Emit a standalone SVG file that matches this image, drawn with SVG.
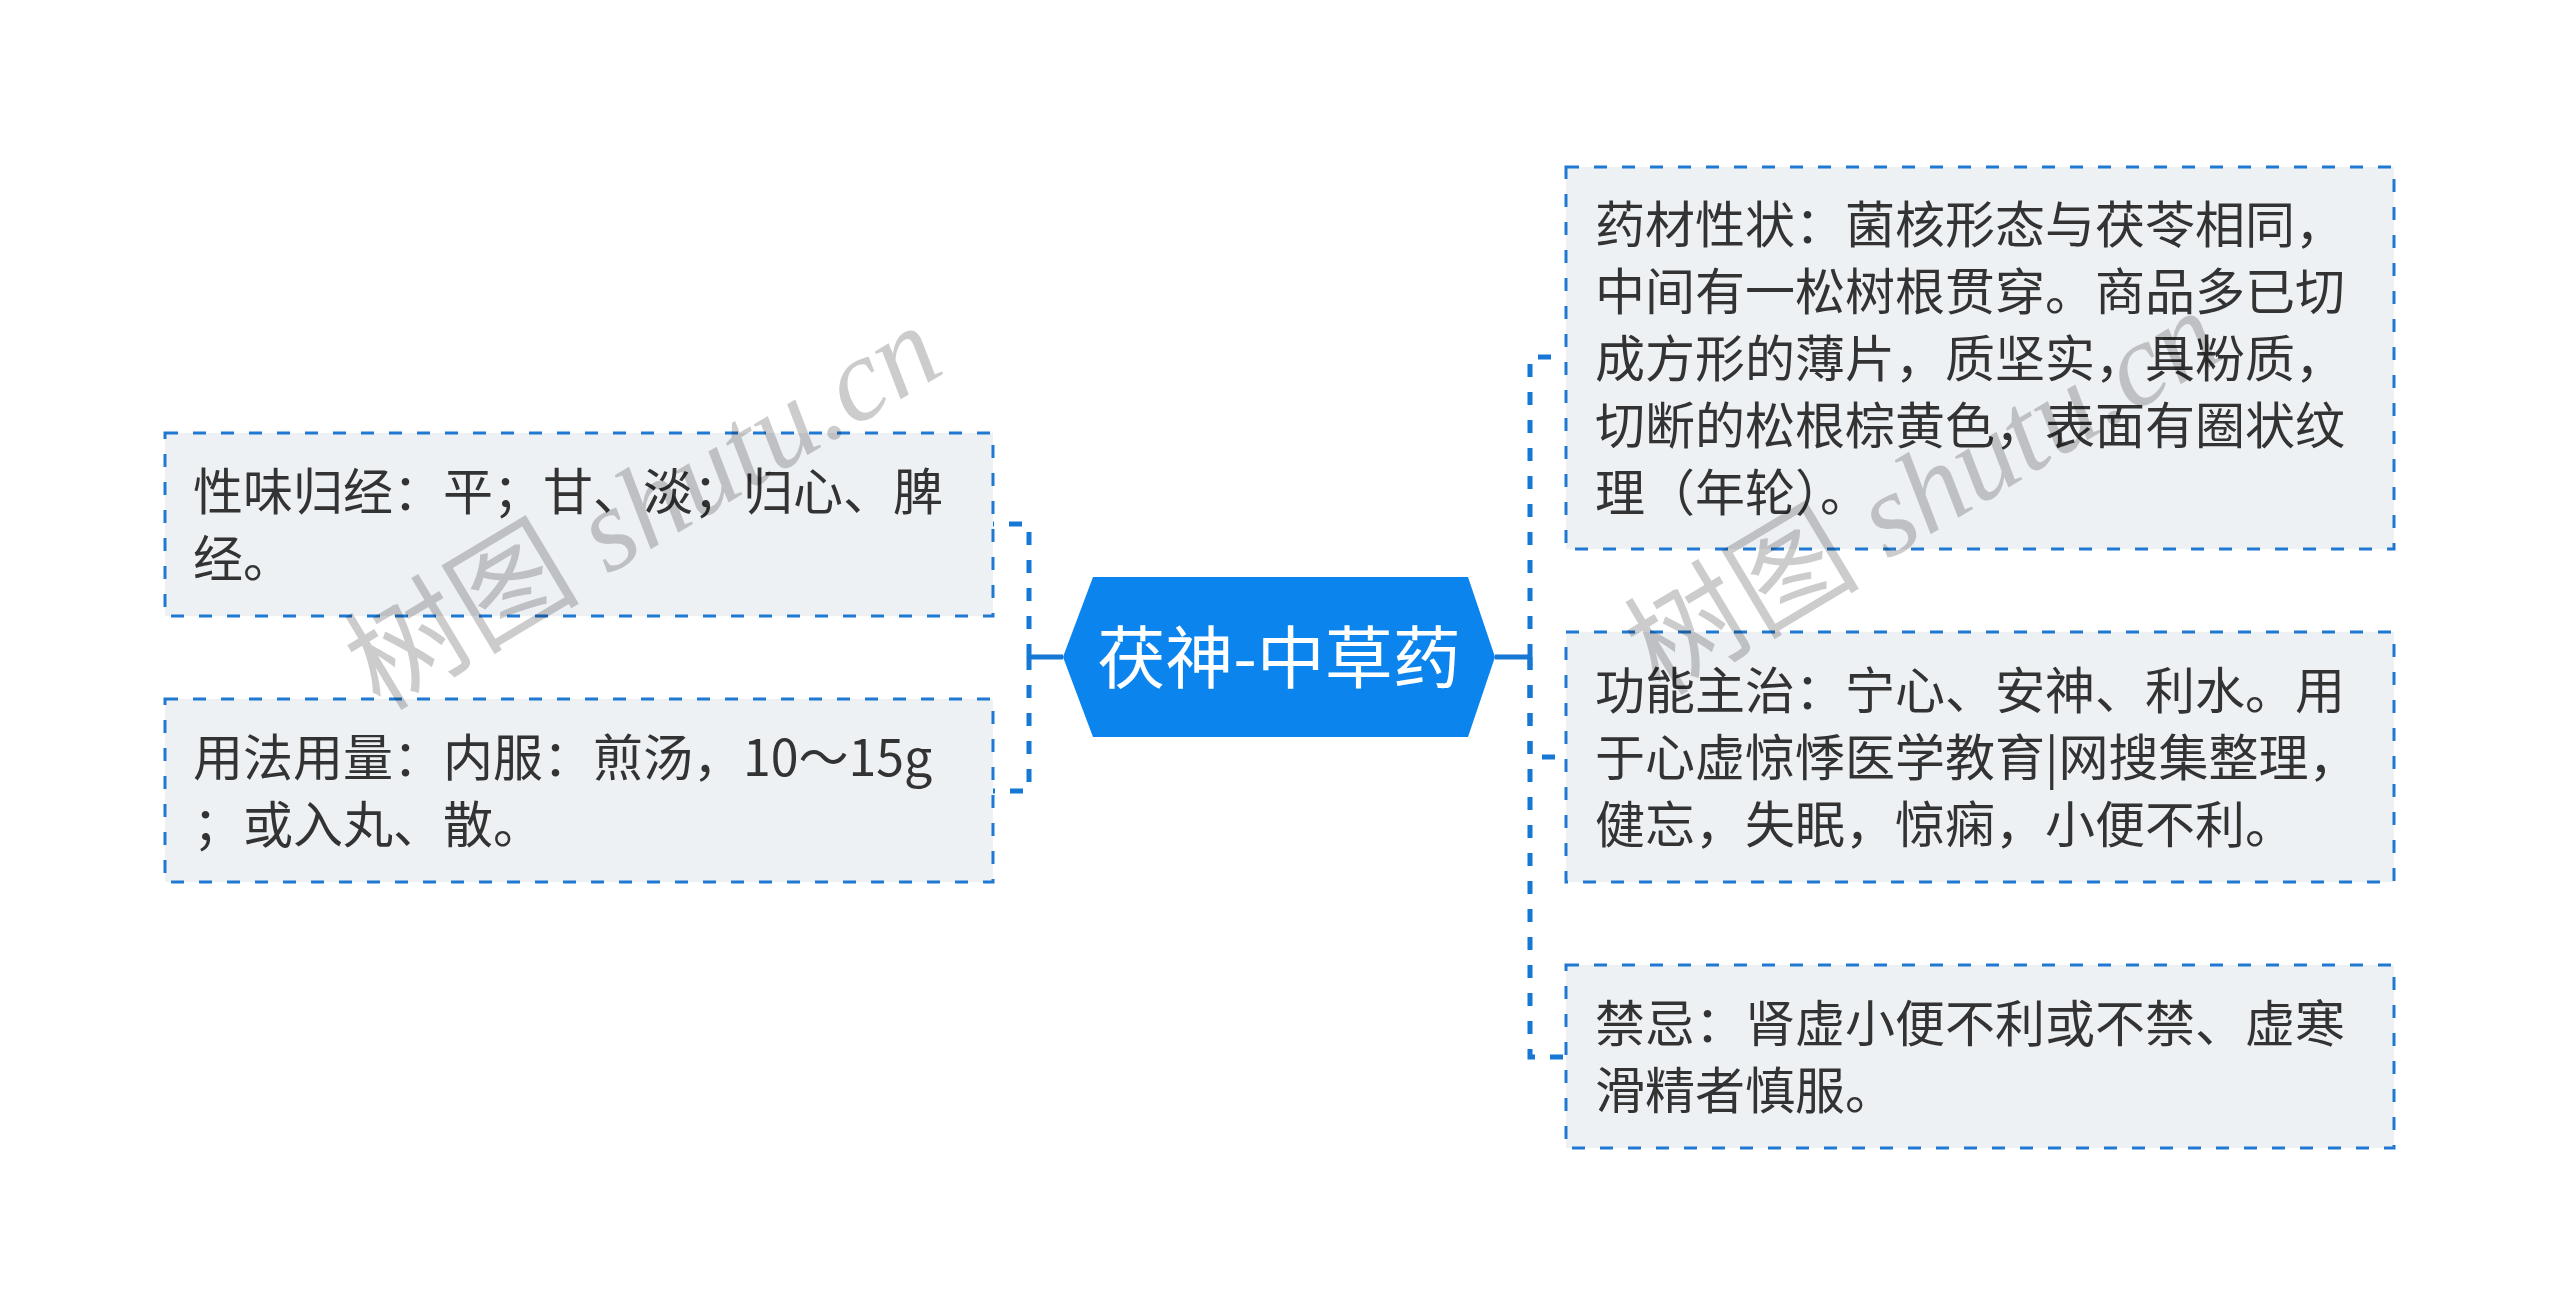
<svg xmlns="http://www.w3.org/2000/svg" width="2560" height="1315" viewBox="0 0 2560 1315">
<defs>
<style>
.box{fill:#eef1f4;stroke:#1f78d1;stroke-width:3;stroke-dasharray:13 15}
.t{font-family:"Microsoft YaHei","Noto Sans CJK SC","Noto Sans",sans-serif;font-size:50px;fill:#333333}
.main{font-family:"Microsoft YaHei","Noto Sans CJK SC","Noto Sans",sans-serif;font-size:68px;fill:#ffffff}
.conn{fill:none;stroke:#1677d4;stroke-width:5;stroke-dasharray:13 15}
.solid{fill:none;stroke:#1677d4;stroke-width:5}
.wm{font-family:"Liberation Serif","Noto Sans CJK SC",serif;font-size:118px;fill:#000000;fill-opacity:0.2}
.it{font-style:italic}
</style>
</defs>
<rect width="2560" height="1315" fill="#ffffff"/>
<g id="connectors">
<path class="solid" d="M1063,657 H1029"/>
<path class="conn" d="M1029,657 V524 H993"/>
<path class="conn" d="M1029,657 V791 H993"/>
<path class="solid" d="M1495,657 H1530"/>
<path class="conn" d="M1530,657 V357 H1566"/>
<path class="conn" d="M1530,657 V757 H1566"/>
<path class="conn" d="M1530,657 V1057 H1566"/>
</g>
<g id="root">
<polygon points="1093,577 1468,577 1495,657 1468,737 1093,737 1063,657" fill="#0b84ee"/>
<text class="main" x="1279" y="683" text-anchor="middle">茯神-中草药</text>
</g>
<g id="node-xingwei">
<rect class="box" x="165" y="433" width="828" height="183"/>
<text class="t" x="193" y="510">性味归经：平；甘、淡；归心、脾</text>
<text class="t" x="193" y="577">经。</text>
</g>
<g id="node-yongfa">
<rect class="box" x="165" y="699" width="828" height="183"/>
<text class="t" x="193" y="776">用法用量：内服：煎汤，10～15g</text>
<text class="t" x="193" y="843">；或入丸、散。</text>
</g>
<g id="node-yaocai">
<rect class="box" x="1566" y="167" width="828" height="382"/>
<text class="t" x="1595" y="243">药材性状：菌核形态与茯苓相同，</text>
<text class="t" x="1595" y="310">中间有一松树根贯穿。商品多已切</text>
<text class="t" x="1595" y="377">成方形的薄片，质坚实，具粉质，</text>
<text class="t" x="1595" y="444">切断的松根棕黄色，表面有圈状纹</text>
<text class="t" x="1595" y="511">理（年轮）。</text>
</g>
<g id="node-gongneng">
<rect class="box" x="1566" y="632" width="828" height="250"/>
<text class="t" x="1595" y="709">功能主治：宁心、安神、利水。用</text>
<text class="t" x="1595" y="776">于心虚惊悸医学教育|网搜集整理，</text>
<text class="t" x="1595" y="843">健忘，失眠，惊痫，小便不利。</text>
</g>
<g id="node-jinji">
<rect class="box" x="1566" y="965" width="828" height="183"/>
<text class="t" x="1595" y="1042">禁忌：肾虚小便不利或不禁、虚寒</text>
<text class="t" x="1595" y="1109">滑精者慎服。</text>
</g>
<g id="watermark">
<text class="wm" transform="translate(380,712) rotate(-31)">树图 <tspan class="it">shutu.cn</tspan></text>
<text class="wm" transform="translate(1660,697) rotate(-31)">树图 <tspan class="it">shutu.cn</tspan></text>
</g>
</svg>
